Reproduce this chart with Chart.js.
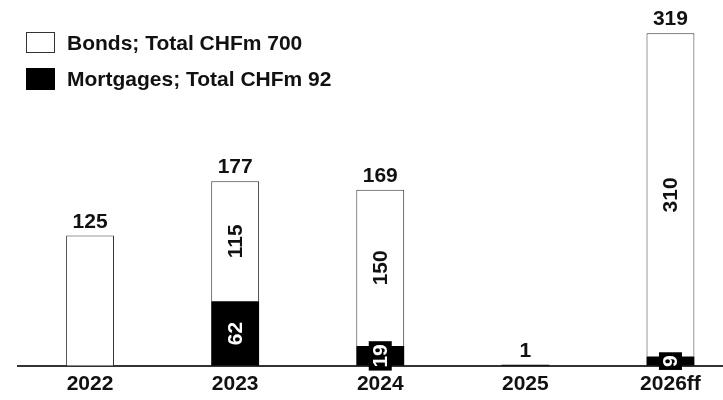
<!DOCTYPE html>
<html><head><meta charset="utf-8">
<script src="https://cdn.jsdelivr.net/npm/chart.js@4.4.1/dist/chart.umd.min.js"></script>
<style>html,body{margin:0;padding:0;background:#fff;overflow:hidden}#wrap{width:723px;height:400px;overflow:hidden}</style>
</head><body><div id="wrap"><canvas id="c" width="743" height="400"></canvas></div>
<script>
const categories = ["2022", "2023", "2024", "2025", "2026ff"];
const bonds = [125, 115, 150, 0, 310];
const mortgages = [0, 62, 19, 1, 9];
const totals = [125, 177, 169, 1, 319];
const seriesNames = ["Bonds; Total CHFm 700", "Mortgages; Total CHFm 92"];
const FONT = "'Liberation Sans', Arial, sans-serif";

const labelPlugin = {
  id: 'labels',
  afterDatasetsDraw(chart) {
    const ctx = chart.ctx;
    const bMeta = chart.getDatasetMeta(1);
    const ys = chart.scales.y;
    ctx.save();
    ctx.font = "bold 21px " + FONT;
    categories.forEach((c, i) => {
      const x = bMeta.data[i].x;
      ctx.fillStyle = "#111";
      ctx.textAlign = "center";
      ctx.textBaseline = "alphabetic";
      ctx.fillText(String(totals[i]), x, ys.getPixelForValue(totals[i]) - 8);
      if (bonds[i] > 0 && mortgages[i] > 0) {
        const yb = (ys.getPixelForValue(mortgages[i]) + ys.getPixelForValue(mortgages[i] + bonds[i])) / 2;
        ctx.save();
        ctx.translate(x, yb);
        ctx.rotate(-Math.PI / 2);
        ctx.textBaseline = "middle";
        ctx.fillStyle = "#111";
        ctx.fillText(String(bonds[i]), 0, 1);
        ctx.restore();
        const ym = (ys.getPixelForValue(0) + ys.getPixelForValue(mortgages[i])) / 2;
        ctx.save();
        ctx.translate(x, ym);
        ctx.rotate(-Math.PI / 2);
        const t = String(mortgages[i]);
        const w = ctx.measureText(t).width;
        ctx.fillStyle = "#000";
        ctx.fillRect(-w / 2 - 3, -11.5, w + 6, 23);
        ctx.fillStyle = "#fff";
        ctx.textBaseline = "middle";
        ctx.fillText(t, 0, 1);
        ctx.restore();
      }
    });
    ctx.textAlign = "left";
    ctx.textBaseline = "middle";
    ctx.fillStyle = "#fff";
    ctx.strokeStyle = "#333";
    ctx.lineWidth = 1;
    ctx.fillRect(26, 32, 29, 21);
    ctx.strokeRect(26.5, 32.5, 28, 20);
    ctx.fillStyle = "#111";
    ctx.fillText(seriesNames[0], 67, 44);
    ctx.fillStyle = "#000";
    ctx.fillRect(26, 68, 29, 22);
    ctx.fillStyle = "#111";
    ctx.fillText(seriesNames[1], 67, 80);
    ctx.restore();
  }
};

new Chart(document.getElementById('c'), {
  type: 'bar',
  data: {
    labels: categories,
    datasets: [
      { label: seriesNames[1], data: mortgages, backgroundColor: '#000', borderWidth: 0, barPercentage: 0.33, categoryPercentage: 1 },
      { label: seriesNames[0], data: bonds, backgroundColor: '#fff', borderColor: '#333', borderWidth: 1, borderSkipped: 'bottom', barPercentage: 0.33, categoryPercentage: 1 }
    ]
  },
  options: {
    responsive: false,
    animation: false,
    layout: { padding: { left: 17.5, right: 0, top: 0, bottom: -3 } },
    plugins: { legend: { display: false }, tooltip: { enabled: false } },
    scales: {
      x: {
        stacked: true,
        grid: { display: false, drawTicks: false },
        border: { display: true, color: '#333', width: 2 },
        ticks: { font: { family: FONT, size: 21, weight: 'bold' }, color: '#111', padding: 6 }
      },
      y: { stacked: true, display: false, min: 0, max: 351 }
    }
  },
  plugins: [labelPlugin]
});
</script></body></html>
